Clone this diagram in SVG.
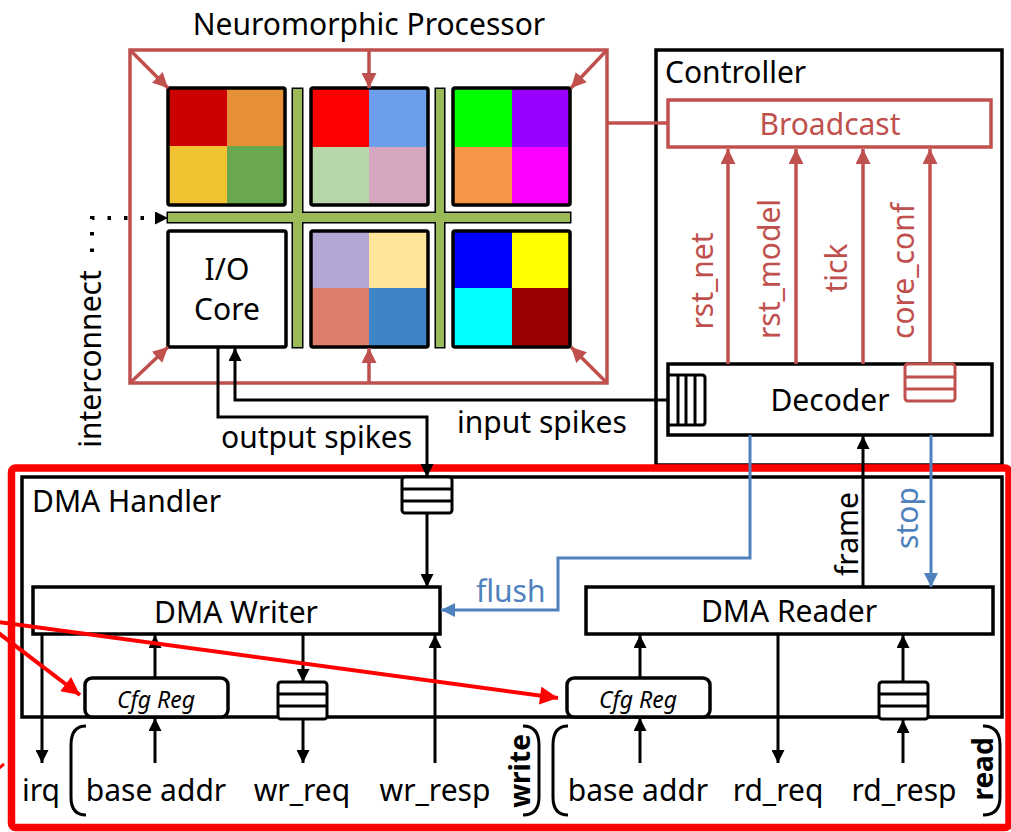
<svg xmlns="http://www.w3.org/2000/svg" width="1011" height="832" viewBox="0 0 1011 832">
<style>
text{font-family:"Noto Sans","Open Sans",sans-serif;fill:#000}
.t30{font-size:30px}
.red{fill:#c0504d}
.blue{fill:#4f81bd}
.k{fill:none;stroke:#000;stroke-width:3.5}
.rk{fill:none;stroke:#c0504d;stroke-width:3.5}
.tile{stroke:#000;stroke-width:3.5;fill:none}
.w{fill:#fff;stroke:#000;stroke-width:3.5}
.ln{fill:none;stroke:#000;stroke-width:3}
.rl{fill:none;stroke:#c0504d;stroke-width:3.5}
.bl{fill:none;stroke:#4f81bd;stroke-width:3}
.mid{text-anchor:middle}
.cfg{font-size:23px;font-style:italic}
.bold{font-weight:bold;font-size:28px}
</style>
<defs>
<marker id="ak" viewBox="0 0 10 10" refX="10" refY="5" markerWidth="13" markerHeight="13" markerUnits="userSpaceOnUse" orient="auto"><path d="M0,0 L10,5 L0,10 z" fill="#000"/></marker>
<marker id="ar" viewBox="0 0 10 10" refX="10" refY="5" markerWidth="15" markerHeight="15" markerUnits="userSpaceOnUse" orient="auto"><path d="M0,0 L10,5 L0,10 z" fill="#c0504d"/></marker>
<marker id="ab" viewBox="0 0 10 10" refX="10" refY="5" markerWidth="14" markerHeight="14" markerUnits="userSpaceOnUse" orient="auto"><path d="M0,0 L10,5 L0,10 z" fill="#4f81bd"/></marker>
<marker id="aR" viewBox="0 0 10 10" refX="10" refY="5" markerWidth="20" markerHeight="18" markerUnits="userSpaceOnUse" orient="auto"><path d="M0,0 L10,5 L0,10 z" fill="#ff0000"/></marker>
</defs>
<rect width="1011" height="832" fill="#fff"/>

<g id="processor">
<text class="t30 mid" x="369" y="35">Neuromorphic Processor</text>
<rect class="rk" x="130" y="50" width="477" height="333"/>
</g>

<g id="interconnect-bars">
<g fill="#9bbb59" stroke="#000" stroke-width="3">
<rect x="293" y="89" width="9" height="258"/>
<rect x="436" y="89" width="8" height="258"/>
<rect x="168" y="213" width="402" height="9"/>
</g>
<g fill="#9bbb59">
<rect x="293" y="89" width="9" height="258"/>
<rect x="436" y="89" width="8" height="258"/>
<rect x="168" y="213" width="402" height="9"/>
</g>
</g>

<g id="tile1">
<rect x="168" y="88" width="59" height="58" fill="#cc0000"/><rect x="227" y="88" width="58" height="58" fill="#e69138"/>
<rect x="168" y="146" width="59" height="59" fill="#f1c232"/><rect x="227" y="146" width="58" height="59" fill="#6aa84f"/>
<rect class="tile" x="168" y="88" width="117" height="117" rx="2"/>
</g>
<g id="tile2">
<rect x="311" y="88" width="58" height="59" fill="#ff0000"/><rect x="369" y="88" width="59" height="59" fill="#6d9eeb"/>
<rect x="311" y="147" width="58" height="58" fill="#b6d7a8"/><rect x="369" y="147" width="59" height="58" fill="#d5a6bd"/>
<rect class="tile" x="311" y="88" width="117" height="117" rx="2"/>
</g>
<g id="tile3">
<rect x="453" y="88" width="59" height="59" fill="#00ff00"/><rect x="512" y="88" width="58" height="59" fill="#9900ff"/>
<rect x="453" y="147" width="59" height="58" fill="#f79646"/><rect x="512" y="147" width="58" height="58" fill="#ff00ff"/>
<rect class="tile" x="453" y="88" width="117" height="117" rx="2"/>
</g>
<g id="io-core">
<rect class="w" x="168" y="231" width="118" height="116" rx="2"/>
<text class="t30 mid" x="227" y="280">I/O</text>
<text class="t30 mid" x="227" y="320">Core</text>
</g>
<g id="tile5">
<rect x="311" y="231" width="58" height="57" fill="#b4a7d6"/><rect x="369" y="231" width="59" height="57" fill="#ffe599"/>
<rect x="311" y="288" width="58" height="59" fill="#dd7e6b"/><rect x="369" y="288" width="59" height="59" fill="#3d85c6"/>
<rect class="tile" x="311" y="231" width="117" height="116" rx="2"/>
</g>
<g id="tile6">
<rect x="453" y="231" width="59" height="57" fill="#0000ff"/><rect x="512" y="231" width="58" height="57" fill="#ffff00"/>
<rect x="453" y="288" width="59" height="59" fill="#00ffff"/><rect x="512" y="288" width="58" height="59" fill="#990000"/>
<rect class="tile" x="453" y="231" width="117" height="116" rx="2"/>
</g>

<g id="interconnect-label">
<text class="t30 mid" transform="translate(101,359) rotate(-90)">interconnect</text>
</g>

<g id="controller">
<rect class="k" x="656" y="50" width="346" height="415"/>
<text class="t30" x="665" y="83">Controller</text>
</g>
<g id="broadcast">
<rect class="rk" x="668" y="100" width="323" height="47"/>
<text class="t30 mid red" x="830" y="135">Broadcast</text>
</g>
<g id="decoder">
<rect class="w" x="668" y="364" width="324" height="71"/>
<text class="t30 mid" x="830" y="411">Decoder</text>
<path class="ln" d="M668,375 H702 Q705,375 705,378 V422 Q705,425 702,425 H668 M678,375 V425 M686,375 V425 M695,375 V425"/>
<rect x="905" y="364" width="50" height="37" rx="3" fill="#fff" stroke="#c0504d" stroke-width="3"/>
<path d="M905,377 H955 M905,389 H955" stroke="#c0504d" stroke-width="3"/>
</g>

<g id="dma-box">
<rect x="11.5" y="468" width="997.5" height="359.5" rx="4" fill="none" stroke="#ff0000" stroke-width="7.5"/>
</g>
<g id="dma-handler">
<rect class="k" x="22" y="477" width="980" height="240"/>
<text class="t30" x="32" y="512">DMA Handler</text>
<rect x="402" y="477" width="50" height="36" rx="3" fill="#fff" stroke="#000" stroke-width="3"/>
<path d="M402,489 H452 M402,501 H452" stroke="#000" stroke-width="3"/>
</g>
<g id="dma-writer">
<rect class="w" x="33" y="587" width="407" height="47"/>
<text class="t30 mid" x="236" y="623">DMA Writer</text>
</g>
<g id="dma-reader">
<rect class="w" x="586" y="587" width="407" height="47"/>
<text class="t30 mid" x="789" y="622">DMA Reader</text>
</g>
<g id="cfg-reg-w">
<rect class="w" x="85" y="678" width="143" height="39" rx="7"/>
<text class="cfg mid" x="156" y="708">Cfg Reg</text>
</g>
<g id="cfg-reg-r">
<rect class="w" x="567" y="678" width="143" height="39" rx="7"/>
<text class="cfg mid" x="638" y="708">Cfg Reg</text>
</g>
<g id="wr-fifo">
<rect x="278" y="682" width="49" height="37" rx="3" fill="#fff" stroke="#000" stroke-width="3"/>
<path d="M278,694 H327 M278,706 H327" stroke="#000" stroke-width="3"/>
</g>
<g id="rd-fifo">
<rect x="879" y="682" width="49" height="37" rx="3" fill="#fff" stroke="#000" stroke-width="3"/>
<path d="M879,694 H928 M879,706 H928" stroke="#000" stroke-width="3"/>
</g>

<g id="connectors">
<line class="rl" x1="130" y1="50" x2="168" y2="88" marker-end="url(#ar)"/>
<line class="rl" x1="369" y1="50" x2="369" y2="88" marker-end="url(#ar)"/>
<line class="rl" x1="607" y1="50" x2="571" y2="88" marker-end="url(#ar)"/>
<line class="rl" x1="130" y1="383" x2="168" y2="347" marker-end="url(#ar)"/>
<line class="rl" x1="369" y1="383" x2="369" y2="348" marker-end="url(#ar)"/>
<line class="rl" x1="607" y1="383" x2="571" y2="347" marker-end="url(#ar)"/>
<line class="rl" x1="607" y1="123" x2="668" y2="123"/>
<line class="rl" x1="728" y1="364" x2="728" y2="149" marker-end="url(#ar)"/>
<line class="rl" x1="796" y1="364" x2="796" y2="149" marker-end="url(#ar)"/>
<line class="rl" x1="863" y1="364" x2="863" y2="149" marker-end="url(#ar)"/>
<line class="rl" x1="930" y1="364" x2="930" y2="149" marker-end="url(#ar)"/>
<path d="M92,252 V218 H160" fill="none" stroke="#000" stroke-width="4" stroke-dasharray="3.5 13" stroke-dashoffset="0"/>
<line x1="155" y1="218" x2="168" y2="218" stroke="#000" stroke-width="1" marker-end="url(#ak)"/>
<path class="ln" d="M668,400 H235 V348" marker-end="url(#ak)"/>
<path class="ln" d="M218,347 V417 H427 V477" marker-end="url(#ak)"/>
<line class="ln" x1="427" y1="513" x2="427" y2="587" marker-end="url(#ak)"/>
<path class="bl" d="M750,435 V558 H558 V610 H441" marker-end="url(#ab)"/>
<line class="ln" x1="863" y1="587" x2="863" y2="436" marker-end="url(#ak)"/>
<line class="bl" x1="931" y1="435" x2="931" y2="587" marker-end="url(#ab)"/>
<line class="ln" x1="155" y1="678" x2="155" y2="635" marker-end="url(#ak)"/>
<line class="ln" x1="155" y1="763" x2="155" y2="718" marker-end="url(#ak)"/>
<line class="ln" x1="640" y1="678" x2="640" y2="635" marker-end="url(#ak)"/>
<line class="ln" x1="640" y1="763" x2="640" y2="718" marker-end="url(#ak)"/>
<line class="ln" x1="42" y1="634" x2="42" y2="763" marker-end="url(#ak)"/>
<line class="ln" x1="303" y1="634" x2="303" y2="682" marker-end="url(#ak)"/>
<line class="ln" x1="303" y1="719" x2="303" y2="763" marker-end="url(#ak)"/>
<line class="ln" x1="435" y1="763" x2="435" y2="635" marker-end="url(#ak)"/>
<line class="ln" x1="778" y1="634" x2="778" y2="763" marker-end="url(#ak)"/>
<line class="ln" x1="903" y1="682" x2="903" y2="635" marker-end="url(#ak)"/>
<line class="ln" x1="903" y1="763" x2="903" y2="720" marker-end="url(#ak)"/>
<line x1="-12" y1="625" x2="80" y2="695" stroke="#ff0000" stroke-width="4" marker-end="url(#aR)"/>
<line x1="-10" y1="621" x2="558" y2="698" stroke="#ff0000" stroke-width="4" marker-end="url(#aR)"/>
<line x1="-2" y1="769" x2="4" y2="764" stroke="#ff0000" stroke-width="3"/>
</g>

<g id="labels">
<text class="t30" x="221" y="448">output spikes</text>
<text class="t30" x="457" y="433">input spikes</text>
<text class="t30 blue" x="476" y="602">flush</text>
<text class="t30 mid" transform="translate(858,534) rotate(-90)">frame</text>
<text class="t30 mid blue" transform="translate(918,518) rotate(-90)">stop</text>
<text class="t30 mid red" transform="translate(713,281) rotate(-90)">rst_net</text>
<text class="t30 mid red" transform="translate(780,269) rotate(-90)">rst_model</text>
<text class="t30 mid red" transform="translate(847,268) rotate(-90)">tick</text>
<text class="t30 mid red" transform="translate(914,271) rotate(-90)">core_conf</text>
<text class="t30" x="22" y="801">irq</text>
<text class="t30 mid" x="156" y="801">base addr</text>
<text class="t30 mid" x="302" y="801">wr_req</text>
<text class="t30 mid" x="435" y="801">wr_resp</text>
<text class="t30 mid" x="638" y="801">base addr</text>
<text class="t30 mid" x="778" y="801">rd_req</text>
<text class="t30 mid" x="904" y="801">rd_resp</text>
<text class="bold mid" transform="translate(530,771) rotate(-90)">write</text>
<text class="bold mid" transform="translate(993,769) rotate(-90)">read</text>
<path class="ln" d="M86,726 Q71,726 71,745 V797 Q71,815 86,815"/>
<path class="ln" d="M523,726 Q539,726 539,745 V797 Q539,815 523,815"/>
<path class="ln" d="M568,726 Q553,726 553,745 V797 Q553,815 568,815"/>
<path class="ln" d="M983,726 Q1000,726 1000,745 V797 Q1000,815 983,815"/>
</g>
</svg>
